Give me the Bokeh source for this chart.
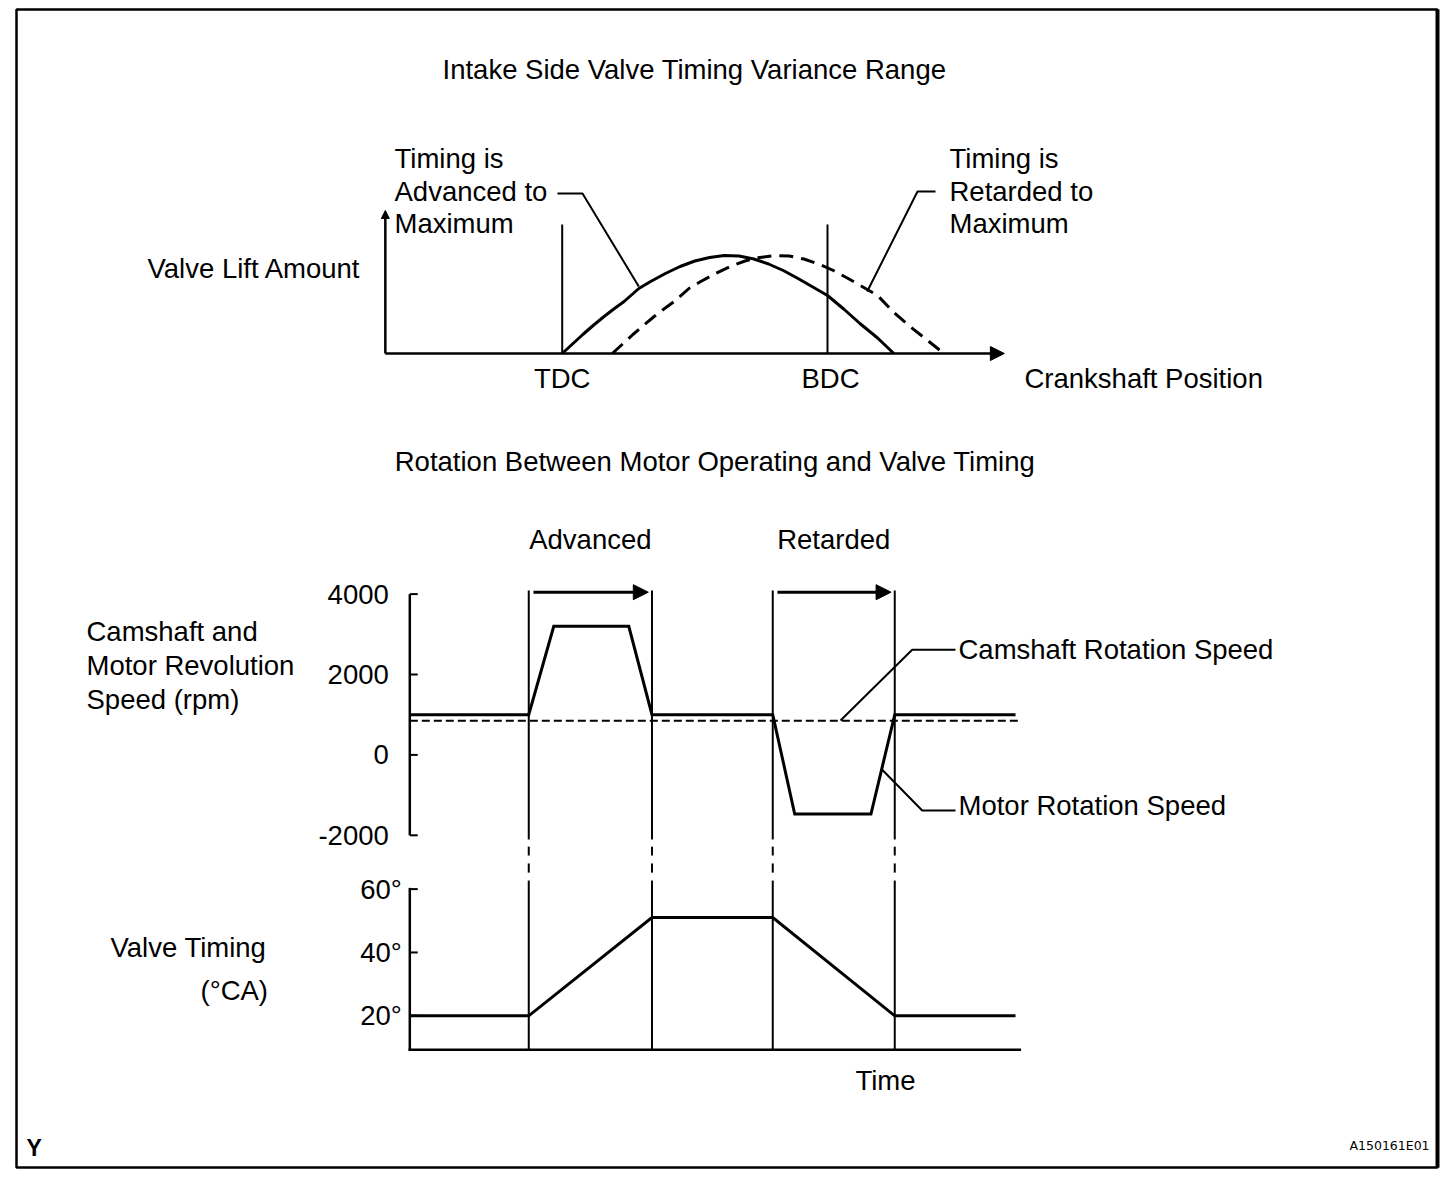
from bokeh.plotting import figure
from bokeh.models import Range1d, Arrow, NormalHead
from bokeh.core.properties import value
from bokeh.embed import file_html
from bokeh.resources import INLINE

# ---------------- data ----------------
# Top chart: valve lift (mm) against crankshaft angle (deg after TDC)
crank_adv = [0, 7, 14, 21, 28, 35, 42, 52, 60, 70, 80, 90, 100, 110, 120, 130, 140,
             150, 160, 170, 180, 191, 202, 214, 225]
lift_adv = [0, 0.95, 1.9, 2.8, 3.65, 4.45, 5.2, 6.5, 7.2, 8.0, 8.7, 9.25, 9.6, 9.8, 9.75,
            9.45, 8.95, 8.3, 7.5, 6.65, 5.8, 4.45, 3.0, 1.55, 0]
crank_ret = [34, 41, 48, 55, 62, 69, 76, 86, 94, 104, 114, 124, 134, 144, 154, 164, 174,
             184, 194, 204, 214, 225, 236, 248, 259]
lift_ret = [0, 0.95, 1.9, 2.8, 3.65, 4.45, 5.2, 6.5, 7.2, 8.0, 8.7, 9.25, 9.6, 9.8, 9.75,
            9.45, 8.95, 8.3, 7.5, 6.65, 5.8, 4.1, 2.7, 1.3, 0]
crank_marks = [0, 180]
crank_mark_labels = ["TDC", "BDC"]

# Middle chart: revolution speed (rpm) against time
time_motor = [0, 1.95, 2.36, 3.59, 3.97, 5.95, 6.31, 7.56, 7.95, 9.93]
motor_rpm = [1000, 1000, 3200, 3200, 1000, 1000, -1470, -1470, 1000, 1000]
time_cam = [0, 10.0]
cam_rpm = [850, 850]
rpm_ticks = [4000, 2000, 0, -2000]
rpm_tick_labels = ["4000", "2000", "0", "-2000"]

# phases
event_times = [1.95, 3.97, 5.95, 7.95]
phase_names = ["Advanced", "Retarded"]
phase_start = [1.95, 5.95]
phase_end = [3.97, 7.95]

# Bottom chart: valve timing (deg CA) against time
time_vt = [0, 1.95, 3.97, 5.95, 7.95, 9.93]
vt_deg = [20, 20, 51, 51, 20, 20]
deg_ticks = [60, 40, 20]
deg_tick_labels = ["60°", "40°", "20°"]

# ---------------- layout ----------------
X_PIX = (0, 1440)
Y_PIX = (1170, 0)


def lin_range(v1, p1, v2, p2, pix):
    k = (v2 - v1) / (p2 - p1)
    return Range1d(start=v1 + (pix[0] - p1) * k, end=v1 + (pix[1] - p1) * k)


p = figure(width=1440, height=1170,
           x_range=Range1d(*X_PIX), y_range=Range1d(*Y_PIX),
           output_backend="svg", toolbar_location=None,
           x_axis_location=None, y_axis_location=None,
           min_border=0, outline_line_color=None,
           background_fill_color="white", border_fill_color="white")
p.grid.grid_line_color = None

p.extra_x_ranges = {
    "crank": lin_range(0, 561.7, 180, 827.0, X_PIX),
    "time": lin_range(0, 409.3, 10, 1019.3, X_PIX),
}
p.extra_y_ranges = {
    "lift": lin_range(0, 353.0, 10, 253.0, Y_PIX),
    "rpm": lin_range(4000, 593.6, -2000, 834.8, Y_PIX),
    "deg": lin_range(60, 888.6, 20, 1015.3, Y_PIX),
}

FONT = value("Liberation Sans")
FS = value("27.5px")
BLACK = "black"


def label(x, y, txt, align="left", **kw):
    p.text(x=x, y=y, text=txt, text_font=FONT, text_font_size=kw.pop("size", FS),
           text_align=align, text_baseline="middle", text_color=BLACK, **kw)


# frame
p.quad(left=[16], right=[1437], top=[9], bottom=[1167], fill_color=None,
       line_color=BLACK, line_width=2.5)
p.segment(x0=[1437], y0=[9], x1=[1437], y1=[1167], line_color=BLACK, line_width=4)

# ---------------- top chart ----------------
CR = dict(x_range_name="crank", y_range_name="lift")
AX_CR_MIN, AX_CR_MAX = -120, 300
AX_LIFT_MAX = 14.3
MARK_TOP = 12.9

p.add_layout(Arrow(end=NormalHead(size=14, fill_color=BLACK, line_color=BLACK, line_width=1),
                   x_start=AX_CR_MIN, y_start=0, x_end=AX_CR_MAX, y_end=0,
                   line_width=2.5, line_color=BLACK, **CR))
p.add_layout(Arrow(end=NormalHead(size=8, fill_color=BLACK, line_color=BLACK, line_width=1),
                   x_start=AX_CR_MIN, y_start=0, x_end=AX_CR_MIN, y_end=AX_LIFT_MAX,
                   line_width=2.5, line_color=BLACK, **CR))
p.segment(x0=crank_marks, y0=[0, 0], x1=crank_marks, y1=[MARK_TOP, MARK_TOP],
          line_color=BLACK, line_width=2, **CR)
p.line(crank_adv, lift_adv, line_color=BLACK, line_width=3, line_join="round", **CR)
p.line(crank_ret, lift_ret, line_color=BLACK, line_width=3, line_dash="14 8", **CR)

label(crank_marks, [378, 378], crank_mark_labels, align="center", x_range_name="crank",
      x_offset=[0, 3])

label([694], [69], ["Intake Side Valve Timing Variance Range"], align="center")
label([394, 394, 394], [158, 190.5, 223], ["Timing is", "Advanced to", "Maximum"])
label([949, 949, 949], [158, 190.5, 223], ["Timing is", "Retarded to", "Maximum"])
label([147], [268], ["Valve Lift Amount"])
label([1024], [378], ["Crankshaft Position"])

# leaders (top)
p.line([557, 582, 638.3], [193, 193, 286], line_color=BLACK, line_width=2)
p.line([866.7, 917, 935], [291, 191, 191], line_color=BLACK, line_width=2)

# ---------------- middle chart ----------------
TR = dict(x_range_name="time", y_range_name="rpm")
TICK_LEN = 0.13
EVENT_TOP = 4090
EVENT_BOT = -2104

label([714.5], [461], ["Rotation Between Motor Operating and Valve Timing"], align="center")
label([(a + b) / 2 for a, b in zip(phase_start, phase_end)], [539, 539], phase_names,
      align="center", x_range_name="time")

for a, b in zip(phase_start, phase_end):
    p.add_layout(Arrow(end=NormalHead(size=15, fill_color=BLACK, line_color=BLACK, line_width=1),
                       x_start=a + 0.077, y_start=591.7, x_end=b - 0.06, y_end=591.7,
                       line_width=3, line_color=BLACK, x_range_name="time"))

p.segment(x0=[0], y0=[rpm_ticks[0]], x1=[0], y1=[rpm_ticks[-1]], line_color=BLACK,
          line_width=2.5, **TR)
p.segment(x0=[0] * len(rpm_ticks), y0=rpm_ticks, x1=[TICK_LEN] * len(rpm_ticks), y1=rpm_ticks,
          line_color=BLACK, line_width=2, **TR)
p.text(x=[0] * len(rpm_ticks), y=rpm_ticks, text=rpm_tick_labels, x_offset=-21,
       text_font=FONT, text_font_size=FS, text_align="right", text_baseline="middle",
       text_color=BLACK, **TR)

p.segment(x0=event_times, y0=[EVENT_TOP] * 4, x1=event_times, y1=[EVENT_BOT] * 4,
          line_color=BLACK, line_width=2, **TR)

p.line(time_cam, cam_rpm, line_color=BLACK, line_width=2, line_dash="8 4", **TR)
p.line(time_motor, motor_rpm, line_color=BLACK, line_width=3, line_join="miter", **TR)

label([86, 86, 86], [631, 665, 699], ["Camshaft and", "Motor Revolution", "Speed (rpm)"])
label([958, 958], [648.5, 805], ["Camshaft Rotation Speed", "Motor Rotation Speed"])

# leaders (middle)
p.line([840, 911.7, 955], [720, 649.3, 649.3], line_color=BLACK, line_width=2)
p.line([881.7, 921.7, 955], [769.3, 810, 810], line_color=BLACK, line_width=2)

# ---------------- bottom chart ----------------
TD = dict(x_range_name="time", y_range_name="deg")
AX_DEG_MIN = 9.3
AX_T_MAX = 10.0

p.segment(x0=event_times, y0=[62.7] * 4, x1=event_times, y1=[AX_DEG_MIN] * 4,
          line_color=BLACK, line_width=2, **TD)
p.segment(x0=event_times * 2, y0=[73.4] * 4 + [68.1] * 4, x1=event_times * 2,
          y1=[70.6] * 4 + [65.2] * 4, line_color=BLACK, line_width=2, **TD)

p.segment(x0=[0, 0], y0=[deg_ticks[0], AX_DEG_MIN], x1=[0, AX_T_MAX], y1=[AX_DEG_MIN, AX_DEG_MIN],
          line_color=BLACK, line_width=2.5, line_cap="square", **TD)
p.segment(x0=[0] * len(deg_ticks), y0=deg_ticks, x1=[TICK_LEN] * len(deg_ticks), y1=deg_ticks,
          line_color=BLACK, line_width=2, **TD)
p.text(x=[0] * len(deg_ticks), y=deg_ticks, text=deg_tick_labels, x_offset=-8,
       text_font=FONT, text_font_size=FS, text_align="right", text_baseline="middle",
       text_color=BLACK, **TD)

p.line(time_vt, vt_deg, line_color=BLACK, line_width=3, line_join="miter", **TD)

label([110, 200], [947, 990], ["Valve Timing", "(°CA)"])
label([885], [1080], ["Time"], align="center")

# corner marks
p.text(x=[26], y=[1147], text=["Y"], text_font=FONT, text_font_size=value("23px"),
       text_font_style="bold", text_align="left", text_baseline="middle", text_color=BLACK)
p.text(x=[1349], y=[1145], text=["A150161E01"], text_font=value("DejaVu Sans"),
       text_font_size=value("12.5px"), text_align="left", text_baseline="middle",
       text_color=BLACK)

open("out.html", "w").write(file_html(p, INLINE))
